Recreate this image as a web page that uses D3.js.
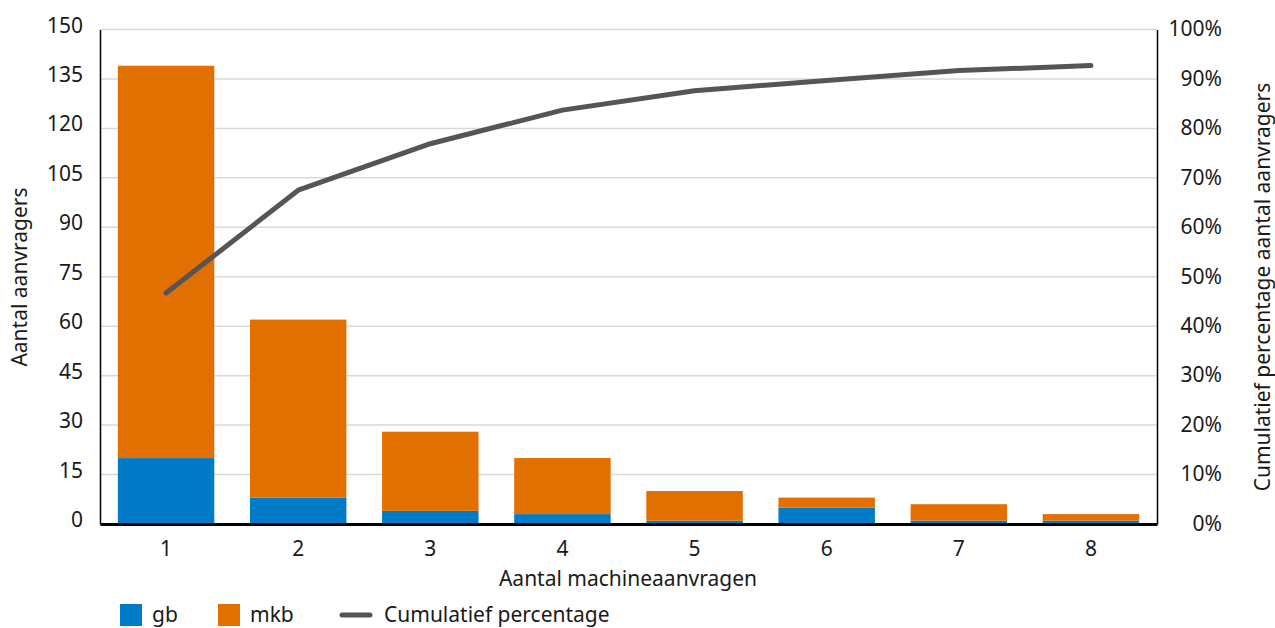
<!DOCTYPE html>
<html>
<head>
<meta charset="utf-8">
<script src="https://cdn.jsdelivr.net/npm/d3@7"></script>
<style>
  html, body { margin: 0; padding: 0; background: #fff; }
  svg text { font-family: "Noto Sans", "Open Sans", sans-serif; fill: #1a1a1a; }
</style>
</head>
<body>
<svg id="chart" width="1275" height="628"></svg>
<script>
// Number of machine applications per applicant
const categories = ["1", "2", "3", "4", "5", "6", "7", "8"];
// Applicants per size class
const gb  = [20, 8, 4, 3, 1, 5, 1, 1];
const mkb = [119, 54, 24, 17, 9, 3, 5, 2];
// Cumulative share of all applicants (%)
const cumulative = [46.7, 67.5, 76.9, 83.7, 87.6, 89.7, 91.7, 92.7];

const leftTicks = [0, 15, 30, 45, 60, 75, 90, 105, 120, 135, 150];
const rightTicks = [0, 10, 20, 30, 40, 50, 60, 70, 80, 90, 100];

const colors = { gb: "#007bc7", mkb: "#e17000", line: "#555555" };

const svg = d3.select("#chart");
const m = { left: 100, right: 1157, top: 29.5, bottom: 524 };

const x = d3.scaleBand().domain(categories).range([m.left, m.right])
  .paddingInner(0.27).paddingOuter(0.135);
const y = d3.scaleLinear().domain([0, 150]).range([m.bottom, m.top]);
const y2 = d3.scaleLinear().domain([0, 100]).range([m.bottom, m.top]);

// Gridlines
svg.append("g")
  .selectAll("line").data(leftTicks.filter(d => d > 0)).join("line")
  .attr("x1", m.left).attr("x2", m.right)
  .attr("y1", d => y(d)).attr("y2", d => y(d))
  .attr("stroke", "#d9d9d9").attr("stroke-width", 1.5);

// Stacked bars
const rows = categories.map((c, i) => ({ cat: c, gb: gb[i], mkb: mkb[i] }));
const stack = d3.stack().keys(["gb", "mkb"])(rows);
svg.append("g").selectAll("g").data(stack).join("g")
  .attr("fill", d => colors[d.key])
  .selectAll("rect").data(d => d).join("rect")
  .attr("x", d => x(d.data.cat))
  .attr("width", x.bandwidth())
  .attr("y", d => y(d[1]))
  .attr("height", d => y(d[0]) - y(d[1]));

// Cumulative line
const line = d3.line()
  .x((d, i) => x(categories[i]) + x.bandwidth() / 2)
  .y(d => y2(d));
svg.append("path").datum(cumulative)
  .attr("d", line)
  .attr("fill", "none")
  .attr("stroke", colors.line)
  .attr("stroke-width", 5)
  .attr("stroke-linecap", "round")
  .attr("stroke-linejoin", "round");

// Axes
const fs = "21px";
const leftAxis = svg.append("g").attr("transform", `translate(${m.left},0)`)
  .call(d3.axisLeft(y).tickValues(leftTicks).tickSize(0).tickPadding(17));
leftAxis.select(".domain").attr("stroke", "#000").attr("stroke-width", 1.5);
leftAxis.selectAll("text").style("font-size", fs).attr("dy", "0.12em");

const rightAxis = svg.append("g").attr("transform", `translate(${m.right},0)`)
  .call(d3.axisRight(y2).tickValues(rightTicks).tickSize(0)
    .tickFormat(d => d + "%"));
rightAxis.select(".domain").attr("stroke", "#000").attr("stroke-width", 1.5);
rightAxis.selectAll("text").style("font-size", fs).attr("text-anchor", "end")
  .attr("dy", "0.3em")
  .attr("x", 65);

const bottomAxis = svg.append("g").attr("transform", `translate(0,${m.bottom})`)
  .call(d3.axisBottom(x).tickSize(0).tickPadding(17));
bottomAxis.select(".domain").attr("stroke", "#000").attr("stroke-width", 3);
bottomAxis.selectAll("text").style("font-size", fs);

// Axis titles
svg.append("text").text("Aantal machineaanvragen")
  .attr("x", 628).attr("y", 586)
  .attr("text-anchor", "middle").style("font-size", fs);

svg.append("text").text("Aantal aanvragers")
  .attr("transform", `translate(27,277) rotate(-90)`)
  .attr("text-anchor", "middle").style("font-size", fs);

svg.append("text").text("Cumulatief percentage aantal aanvragers")
  .attr("transform", `translate(1270,287) rotate(-90)`)
  .attr("text-anchor", "middle").style("font-size", fs);

// Legend
const legend = svg.append("g");
legend.append("rect").attr("x", 120).attr("y", 604).attr("width", 22).attr("height", 22).attr("fill", colors.gb);
legend.append("text").text("gb").attr("x", 152).attr("y", 622).style("font-size", fs);
legend.append("rect").attr("x", 218).attr("y", 604).attr("width", 22).attr("height", 22).attr("fill", colors.mkb);
legend.append("text").text("mkb").attr("x", 250).attr("y", 622).style("font-size", fs);
legend.append("line").attr("x1", 342).attr("x2", 370).attr("y1", 615).attr("y2", 615)
  .attr("stroke", colors.line).attr("stroke-width", 5).attr("stroke-linecap", "round");
legend.append("text").text("Cumulatief percentage").attr("x", 384).attr("y", 622).style("font-size", fs);
</script>
</body>
</html>
